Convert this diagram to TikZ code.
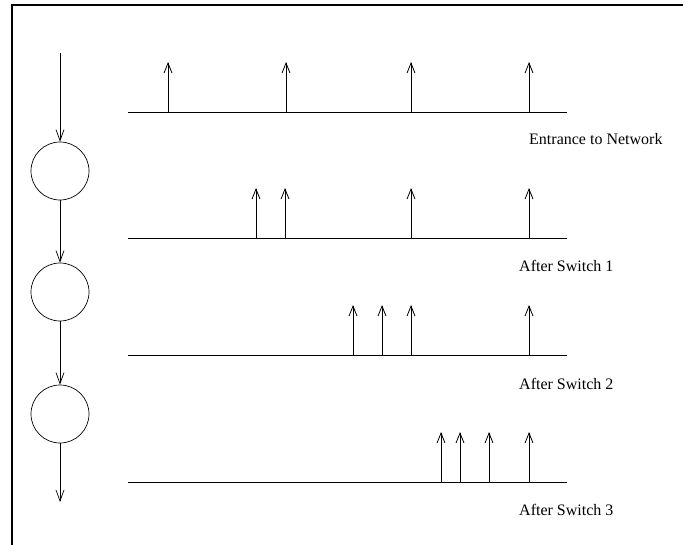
\documentclass[tikz,border=0pt]{standalone}
\usepackage{fontspec}
\setmainfont{Liberation Serif}
\usetikzlibrary{arrows.meta}

\tikzset{
  frame/.style={line width=1.1pt},
  flow/.style={line width=0.7pt,-{Straight Barb[length=11pt,width=8pt]}},
  pkt/.style={line width=0.8pt,-{Straight Barb[length=10pt,width=8pt]}},
  timeline/.style={line width=0.8pt},
  switch/.style={circle,draw,line width=0.7pt,minimum size=58pt,inner sep=0pt},
  lbl/.style={anchor=base west,inner sep=0pt,font=\fontsize{16}{19}\selectfont}
}

\begin{document}
\begin{tikzpicture}[x=1pt,y=-1pt]
    \useasboundingbox (0,0) rectangle (683,545);

    % frame
    \draw[frame] (12,545) -- (12,5) -- (683,5);

    % switches
    \coordinate (In) at (60,53);
    \node[switch] (S1) at (60,171) {};
    \node[switch] (S2) at (60,292) {};
    \node[switch] (S3) at (60,414) {};
    \coordinate (Out) at (60,502);

    \draw[flow] (In) -- (S1);
    \draw[flow] (S1) -- (S2);
    \draw[flow] (S2) -- (S3);
    \draw[flow] (S3) -- (Out);

    % time lines
    \coordinate (T0a) at (128,112);
    \coordinate (T0b) at (567,112);
    \coordinate (T1a) at (128,238);
    \coordinate (T1b) at (567,238);
    \coordinate (T2a) at (128,355);
    \coordinate (T2b) at (567,355);
    \coordinate (T3a) at (128,482);
    \coordinate (T3b) at (567,482);

    \draw[timeline] (T0a) -- (T0b);
    \draw[timeline] (T1a) -- (T1b);
    \draw[timeline] (T2a) -- (T2b);
    \draw[timeline] (T3a) -- (T3b);

    % packets
    \coordinate (P01) at (168,112);
    \coordinate (P02) at (286,112);
    \coordinate (P03) at (411,112);
    \coordinate (P04) at (529,112);

    \coordinate (P11) at (256,238);
    \coordinate (P12) at (285,238);
    \coordinate (P13) at (411,238);
    \coordinate (P14) at (529,238);

    \coordinate (P21) at (353,355);
    \coordinate (P22) at (382,355);
    \coordinate (P23) at (411,355);
    \coordinate (P24) at (529,355);

    \coordinate (P31) at (441,482);
    \coordinate (P32) at (460,482);
    \coordinate (P33) at (489,482);
    \coordinate (P34) at (529,482);

    \draw[pkt] (P01) -- ++(0,-50);
    \draw[pkt] (P02) -- ++(0,-50);
    \draw[pkt] (P03) -- ++(0,-50);
    \draw[pkt] (P04) -- ++(0,-50);

    \draw[pkt] (P11) -- ++(0,-50);
    \draw[pkt] (P12) -- ++(0,-50);
    \draw[pkt] (P13) -- ++(0,-50);
    \draw[pkt] (P14) -- ++(0,-50);

    \draw[pkt] (P21) -- ++(0,-50);
    \draw[pkt] (P22) -- ++(0,-50);
    \draw[pkt] (P23) -- ++(0,-50);
    \draw[pkt] (P24) -- ++(0,-50);

    \draw[pkt] (P31) -- ++(0,-50);
    \draw[pkt] (P32) -- ++(0,-50);
    \draw[pkt] (P33) -- ++(0,-50);
    \draw[pkt] (P34) -- ++(0,-50);

    % labels
    \node[lbl] (L0) at (529,145) {Entrance to Network};
    \node[lbl] (L1) at (519,272) {After Switch 1};
    \node[lbl] (L2) at (519,389) {After Switch 2};
    \node[lbl] (L3) at (519,515) {After Switch 3};
\end{tikzpicture}
\end{document}
